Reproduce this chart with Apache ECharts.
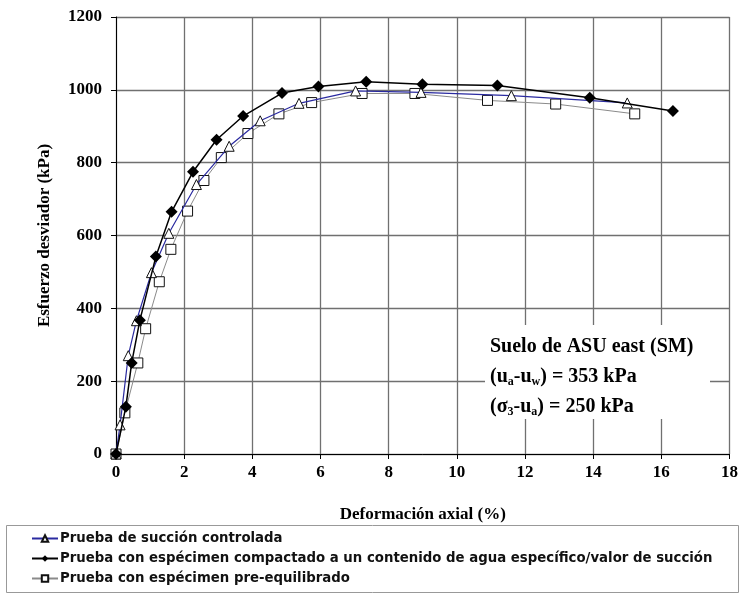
<!DOCTYPE html>
<html>
<head>
<meta charset="utf-8">
<script src="https://cdn.jsdelivr.net/npm/echarts@6/dist/echarts.min.js"></script>
<style>
  html, body { margin: 0; padding: 0; background: #fff; }
  #chart { width: 741px; height: 594px; }
</style>
</head>
<body>
<div id="chart"></div>
<script>
// Deviator stress vs axial strain, ASU east soil (SM)
const seriesNames = [
  'Prueba de succión controlada',
  'Prueba con espécimen compactado a un contenido de agua específico/valor de succión',
  'Prueba con espécimen pre-equilibrado'
];

// Suction-controlled test
const strainControlled = [0, 0.12, 0.36, 0.6, 1.04, 1.55, 2.36, 3.32, 4.23, 5.37, 7.03, 8.95, 11.6, 15.0];
const stressControlled = [0, 80, 270, 366, 498, 606, 740, 845, 915, 963, 997, 993, 984, 964];

// Specimen compacted to a specific water content / suction value
const strainCompacted = [0, 0.29, 0.46, 0.7, 1.17, 1.63, 2.26, 2.95, 3.73, 4.87, 5.94, 7.34, 8.99, 11.19, 13.9, 16.34];
const stressCompacted = [0, 130, 250, 367, 542, 665, 775, 863, 928, 991, 1009, 1022, 1015, 1012, 978, 942];

// Pre-equilibrated specimen
const strainPreEq = [0, 0.26, 0.64, 0.87, 1.27, 1.61, 2.1, 2.58, 3.09, 3.87, 4.78, 5.74, 7.22, 8.77, 10.9, 12.9, 15.22];
const stressPreEq = [0, 113, 250, 344, 473, 562, 667, 751, 814, 880, 934, 965, 990, 990, 971, 961, 934];

const xTicks = { min: 0, max: 18, interval: 2 };
const yTicks = { min: 0, max: 1200, interval: 200 };

function pairs(xs, ys) { return xs.map((x, i) => [x, ys[i]]); }

const serif = 'Liberation Serif';
const chart = echarts.init(document.getElementById('chart'), null, { renderer: 'canvas' });

chart.setOption({
  animation: false,
  backgroundColor: '#fff',
  grid: { left: 116, right: 9, top: 17, bottom: 140, containLabel: false },
  xAxis: {
    type: 'value', min: xTicks.min, max: xTicks.max, interval: xTicks.interval,
    name: 'Deformación axial (%)', nameLocation: 'middle', nameGap: 52,
    nameTextStyle: { fontFamily: serif, fontWeight: 'bold', fontSize: 17, color: '#000' },
    axisLine: { show: true, lineStyle: { color: '#000', width: 1 } },
    axisTick: { show: true, length: 5, lineStyle: { color: '#000' } },
    axisLabel: { fontFamily: serif, fontWeight: 'bold', fontSize: 17, color: '#000', margin: 10,
      formatter: v => String(v) },
    splitLine: { show: true, lineStyle: { color: '#707070', width: 1.3 } }
  },
  yAxis: {
    type: 'value', min: yTicks.min, max: yTicks.max, interval: yTicks.interval,
    name: 'Esfuerzo desviador (kPa)', nameLocation: 'middle', nameGap: 63,
    nameTextStyle: { fontFamily: serif, fontWeight: 'bold', fontSize: 17, color: '#000' },
    axisLine: { show: true, lineStyle: { color: '#000', width: 1 } },
    axisTick: { show: true, length: 5, lineStyle: { color: '#000' } },
    axisLabel: { fontFamily: serif, fontWeight: 'bold', fontSize: 17, color: '#000', margin: 14,
      formatter: v => String(v) },
    splitLine: { show: true, lineStyle: { color: '#707070', width: 1.3 } }
  },
  legend: {
    orient: 'vertical', left: 26, top: 527, height: 70, itemGap: 7, itemWidth: 26, itemHeight: 8,
    textStyle: { fontFamily: 'DejaVu Sans', fontWeight: 'bold', fontSize: 13.3, color: '#111', padding: [0, 0, 0, -3] },
    data: seriesNames
  },
  graphic: [
    { type: 'rect', shape: { x: 6.5, y: 525.5, width: 732, height: 67 }, style: { fill: 'none', stroke: '#999', lineWidth: 1 }, z: 1 },
    { type: 'rect', shape: { x: 485, y: 325, width: 225, height: 94 }, style: { fill: '#fff' }, z: 2 },
    {
      type: 'text', left: 490, top: 332, z: 3,
      style: {
        text: 'Suelo de ASU east (SM)\n(u{s|a}-u{s|w}) = 353 kPa\n(σ{s|3}-u{s|a}) = 250 kPa',
        fontFamily: serif, fontWeight: 'bold', fontSize: 20, fill: '#000', lineHeight: 30,
        rich: { s: { fontFamily: serif, fontWeight: 'bold', fontSize: 12, verticalAlign: 'middle', lineHeight: 14, padding: [10, 0, 0, 0] } }
      }
    }
  ],
  series: [
    {
      name: seriesNames[0], type: 'line', data: pairs(strainControlled, stressControlled), z: 4,
      symbol: 'triangle', symbolSize: 10, showAllSymbol: true,
      lineStyle: { color: '#2a2aa0', width: 1.2 },
      itemStyle: { color: '#fff', borderColor: '#111', borderWidth: 1 }
    },
    {
      name: seriesNames[1], type: 'line', data: pairs(strainCompacted, stressCompacted), z: 5,
      symbol: 'diamond', symbolSize: 12, showAllSymbol: true,
      lineStyle: { color: '#000', width: 1.5 },
      itemStyle: { color: '#000', borderColor: '#000', borderWidth: 0 }
    },
    {
      name: seriesNames[2], type: 'line', data: pairs(strainPreEq, stressPreEq), z: 3,
      symbol: 'rect', symbolSize: 10, showAllSymbol: true,
      lineStyle: { color: '#8a8a8a', width: 1 },
      itemStyle: { color: '#fff', borderColor: '#111', borderWidth: 1 }
    }
  ]
});
</script>
</body>
</html>
